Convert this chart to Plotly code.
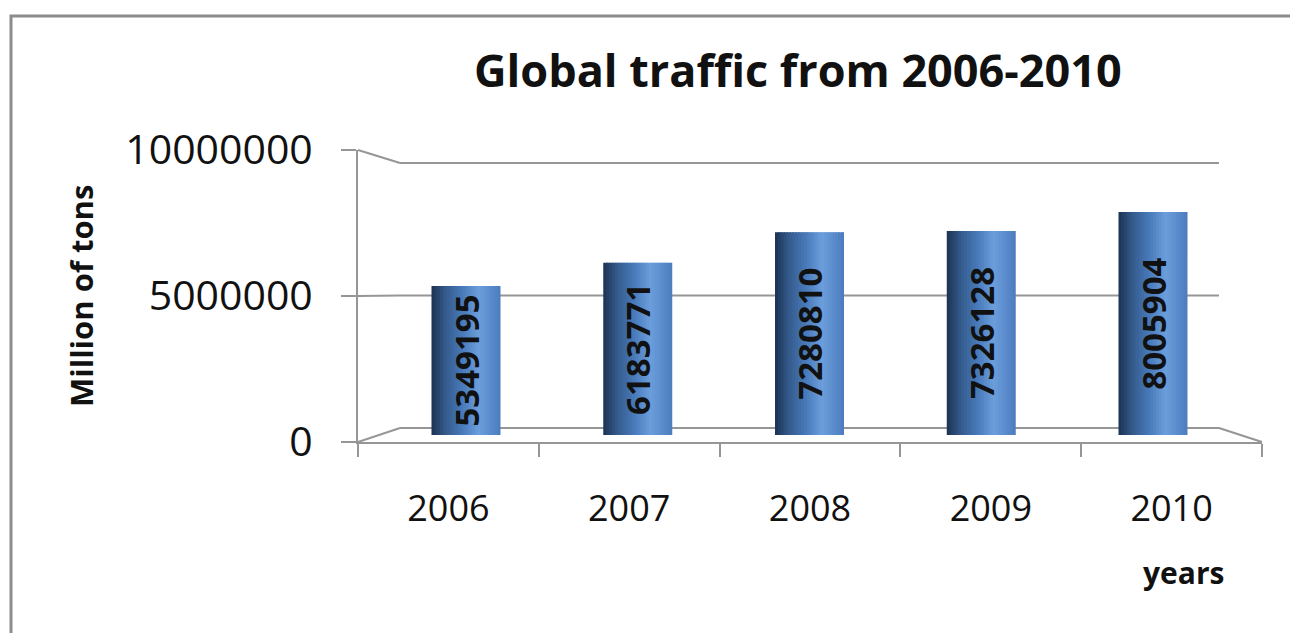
import plotly.graph_objects as go

# ---------------- data ----------------
years = ["2006", "2007", "2008", "2009", "2010"]
traffic = [5349195, 6183771, 7280810, 7326128, 8005904]
y_tickvals = [0, 5000000, 10000000]
y_ticktext = ["0", "5000000", "10000000"]
title_text = "Global traffic from 2006-2010"
y_title = "Million of tons"
x_title = "years"

# ---------------- geometry (pixels) ----------------
W, H = 1290, 633
FONT = "Open Sans"
GRAY = "#969696"


def px(x):
    return x / W


def py(y):
    return 1 - y / H


# back wall (gridlines)
BACK_L, BACK_R, BACK_TOP, BACK_BOT = 400, 1219, 163, 428
# bar scale (pixel rows of 0 and of the top tick value)
BAR_ZERO, BAR_TOP = 435, 156.5
# front axes
FRONT_L, FRONT_R, FRONT_TOP, FRONT_BOT = 358, 1262, 150, 442

bar_step = 171.75
first_center = 466
rng_lo = -(first_center - BACK_L) / bar_step
rng_hi = rng_lo + (BACK_R - BACK_L) / bar_step
bar_w = 69 / bar_step

fig = go.Figure()

# cylinder shading: vertical strips
stops = [(0.0, (28, 50, 82)), (0.2, (52, 90, 140)), (0.45, (72, 122, 186)),
         (0.68, (108, 158, 220)), (1.0, (76, 124, 190))]


def shade(t):
    for (t0, c0), (t1, c1) in zip(stops[:-1], stops[1:]):
        if t0 <= t <= t1:
            f = (t - t0) / (t1 - t0)
            return "rgb(%d,%d,%d)" % tuple(round(a + (b - a) * f) for a, b in zip(c0, c1))
    return "rgb(%d,%d,%d)" % stops[-1][1]


N = 24
sw = bar_w / N
for i in range(N):
    t = (i + 0.5) / N
    fig.add_trace(go.Bar(
        x=years, y=traffic,
        offset=-bar_w / 2 + i * sw,
        width=sw * (1.6 if i < N - 1 else 1.0),
        marker=dict(color=shade(t), line=dict(width=0)),
        hoverinfo="skip", showlegend=False,
        xaxis="x", yaxis="y",
    ))

# label carrier
fig.add_trace(go.Bar(
    x=years, y=traffic, width=bar_w,
    marker=dict(color="rgba(0,0,0,0)", line=dict(width=0)),
    text=[str(v) for v in traffic],
    textposition="inside", insidetextanchor="middle", textangle=-90,
    textfont=dict(family=FONT, size=33, color="#111111", weight="bold"),
    showlegend=False, hoverinfo="x+y",
    xaxis="x", yaxis="y",
))

# dummy trace for the front axes
fig.add_trace(go.Scatter(
    x=years, y=traffic, mode="markers", marker=dict(opacity=0),
    hoverinfo="skip", showlegend=False, xaxis="x2", yaxis="y2",
))


def front_y(v):
    return FRONT_BOT - (FRONT_BOT - FRONT_TOP) * v / y_tickvals[-1]


def back_y(v):
    return BACK_BOT - (BACK_BOT - BACK_TOP) * v / y_tickvals[-1]


shapes = []
for v in y_tickvals:
    # back-wall gridline
    shapes.append(dict(type="line", xref="paper", yref="paper", layer="below",
                       x0=px(BACK_L), y0=py(back_y(v)), x1=px(BACK_R), y1=py(back_y(v)),
                       line=dict(color=GRAY, width=2)))
    # connector from front axis to back wall
    shapes.append(dict(type="line", xref="paper", yref="paper", layer="below",
                       x0=px(FRONT_L), y0=py(front_y(v)), x1=px(BACK_L), y1=py(back_y(v)),
                       line=dict(color=GRAY, width=2)))
# right floor edge
shapes.append(dict(type="line", xref="paper", yref="paper", layer="below",
                   x0=px(BACK_R), y0=py(back_y(0)), x1=px(FRONT_R), y1=py(FRONT_BOT),
                   line=dict(color=GRAY, width=2)))
# chart border
shapes.append(dict(type="rect", xref="paper", yref="paper",
                   x0=px(11), y0=py(16), x1=px(W + 20), y1=py(H + 20),
                   line=dict(color="#8c8c8c", width=3)))

fig.update_layout(
    width=W, height=H,
    margin=dict(l=0, r=0, t=0, b=0, autoexpand=False),
    paper_bgcolor="white", plot_bgcolor="rgba(0,0,0,0)",
    barmode="overlay",
    font=dict(family=FONT, color="#111111"),
    xaxis=dict(domain=[px(BACK_L), px(BACK_R)], anchor="y", type="category",
               range=[rng_lo, rng_hi], showticklabels=False, showgrid=False,
               zeroline=False, showline=False, fixedrange=True),
    yaxis=dict(domain=[py(BAR_ZERO), py(BAR_TOP)], anchor="x", range=[0, y_tickvals[-1]],
               showticklabels=False, showgrid=False, ticks="",
               zeroline=False, showline=False, fixedrange=True),
    xaxis2=dict(domain=[px(FRONT_L), px(FRONT_R)], anchor="y2", type="category",
                range=[-0.5, len(years) - 0.5], tickson="boundaries", ticks="outside",
                ticklen=13, tickwidth=2, tickcolor=GRAY, showline=True, linecolor=GRAY,
                linewidth=2, showgrid=False, zeroline=False,
                tickfont=dict(family=FONT, size=36, color="#111111"),
                ticklabelstandoff=34, fixedrange=True),
    yaxis2=dict(domain=[py(FRONT_BOT), py(FRONT_TOP)], anchor="x2",
                range=[0, y_tickvals[-1]], tickvals=y_tickvals, ticktext=y_ticktext,
                ticks="outside", ticklen=15, tickwidth=2, tickcolor=GRAY,
                showline=True, linecolor=GRAY, linewidth=2, showgrid=False, zeroline=False,
                tickfont=dict(family=FONT, size=41, color="#111111"),
                ticklabelstandoff=20, fixedrange=True),
    shapes=shapes,
    uniformtext=dict(mode="show", minsize=33),
    annotations=[
        dict(text="<b>%s</b>" % title_text, xref="paper", yref="paper",
             x=px(798), y=py(70), showarrow=False, xanchor="center", yanchor="middle",
             font=dict(family=FONT, size=45, color="#111111")),
        dict(text="<b>%s</b>" % y_title, xref="paper", yref="paper",
             x=px(81), y=py(296), showarrow=False, textangle=-90,
             xanchor="center", yanchor="middle",
             font=dict(family=FONT, size=31, color="#111111")),
        dict(text="<b>%s</b>" % x_title, xref="paper", yref="paper",
             x=px(1183), y=py(572), showarrow=False, xanchor="center", yanchor="middle",
             font=dict(family=FONT, size=30, color="#111111")),
    ],
)

fig.write_html("out.html")
